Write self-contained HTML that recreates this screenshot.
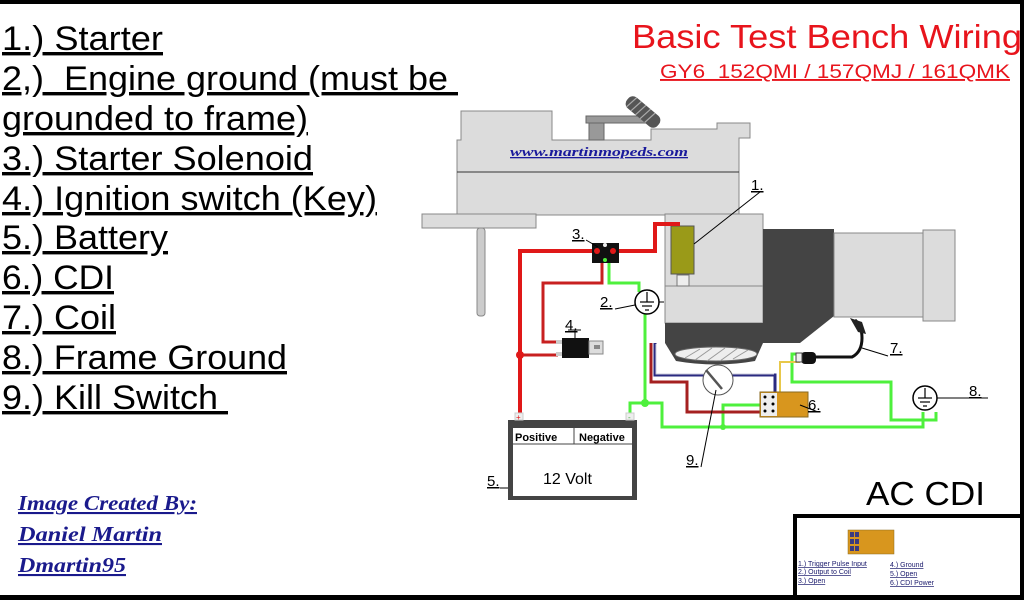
<!DOCTYPE html>
<html><head><meta charset="utf-8"><style>
html,body{margin:0;padding:0;background:#fff;}
svg{display:block;}
</style></head><body>
<svg width="1024" height="600" viewBox="0 0 1024 600" xmlns="http://www.w3.org/2000/svg" font-family="Liberation Sans, sans-serif">
<rect width="1024" height="600" fill="#fff"/>
<rect x="0" y="0" width="1024" height="4" fill="#000"/>
<rect x="0" y="595" width="1024" height="5" fill="#000"/>
<rect x="1020" y="0" width="4" height="600" fill="#000"/>

<g font-size="34" fill="#000" text-decoration="underline">
<text x="2" y="50" textLength="161" lengthAdjust="spacingAndGlyphs">1.) Starter</text>
<text x="2" y="90" textLength="456" lengthAdjust="spacingAndGlyphs" xml:space="preserve">2,)  Engine ground (must be </text>
<text x="2" y="130" textLength="306" lengthAdjust="spacingAndGlyphs">grounded to frame)</text>
<text x="2" y="170" textLength="311" lengthAdjust="spacingAndGlyphs">3.) Starter Solenoid</text>
<text x="2" y="210" textLength="375" lengthAdjust="spacingAndGlyphs">4.) Ignition switch (Key)</text>
<text x="2" y="249" textLength="166" lengthAdjust="spacingAndGlyphs">5.) Battery</text>
<text x="2" y="289" textLength="112" lengthAdjust="spacingAndGlyphs">6.) CDI</text>
<text x="2" y="329" textLength="114" lengthAdjust="spacingAndGlyphs">7.) Coil</text>
<text x="2" y="369" textLength="285" lengthAdjust="spacingAndGlyphs">8.) Frame Ground</text>
<text x="2" y="409" textLength="226" lengthAdjust="spacingAndGlyphs" xml:space="preserve">9.) Kill Switch </text>
</g>

<text x="632" y="48" font-size="33" fill="#e8141c" textLength="390" lengthAdjust="spacingAndGlyphs">Basic Test Bench Wiring</text>
<text x="660" y="78" font-size="19" fill="#e8141c" text-decoration="underline" textLength="350" lengthAdjust="spacingAndGlyphs" xml:space="preserve">GY6  152QMI / 157QMJ / 161QMK</text>

<g font-family="Liberation Serif, serif" font-style="italic" font-weight="bold" font-size="21" fill="#1a1a8c" text-decoration="underline">
<text x="18" y="510" textLength="179" lengthAdjust="spacingAndGlyphs">Image Created By:</text>
<text x="18" y="541" textLength="144" lengthAdjust="spacingAndGlyphs">Daniel Martin</text>
<text x="18" y="572" textLength="108" lengthAdjust="spacingAndGlyphs">Dmartin95</text>
</g>

<text x="866" y="505" font-size="33" fill="#000" textLength="119" lengthAdjust="spacingAndGlyphs">AC CDI</text>

<path d="M795 597 V516 H1024" fill="none" stroke="#000" stroke-width="4"/>
<rect x="848" y="530" width="46" height="24" fill="#d8961e" stroke="#8a6a20" stroke-width="0.5"/>
<g>
<rect x="850" y="532" width="4" height="5" fill="#3a3a80"/><rect x="855" y="532" width="4" height="5" fill="#3a3a80"/>
<rect x="850" y="539" width="4" height="5" fill="#3a3a80"/><rect x="855" y="539" width="4" height="5" fill="#3a3a80"/>
<rect x="850" y="546" width="4" height="5" fill="#3a3a80"/><rect x="855" y="546" width="4" height="5" fill="#3a3a80"/>
</g>
<g font-size="7" fill="#1a1a6c" text-decoration="underline">
<text x="798" y="566">1.) Trigger Pulse Input</text>
<text x="798" y="574">2.) Output to Coil</text>
<text x="798" y="583">3.) Open</text>
<text x="890" y="567">4.) Ground</text>
<text x="890" y="576">5.) Open</text>
<text x="890" y="585">6.) CDI Power</text>
</g>

<path d="M461 111 H552 V140 H651 V129 H717 V123 H750 V138 H739 V215 H457 V140 H461 Z" fill="#dcdcdc" stroke="#888" stroke-width="1"/>
<line x1="457" y1="172" x2="739" y2="172" stroke="#333" stroke-width="1"/>
<rect x="422" y="214" width="114" height="14" fill="#dcdcdc" stroke="#888"/>
<rect x="477" y="228" width="8" height="88" rx="3" fill="#ccc" stroke="#888"/>
<rect x="586" y="116" width="65" height="7" fill="#999" stroke="#666"/>
<rect x="589" y="123" width="15" height="17" fill="#999" stroke="#666"/>
<g transform="translate(643,112) rotate(40)">
<rect x="-20" y="-7" width="40" height="14" rx="6" fill="#555"/>
<g stroke="#aaa" stroke-width="1.2"><line x1="-14" y1="-7" x2="-16" y2="7"/><line x1="-8" y1="-7" x2="-10" y2="7"/><line x1="-2" y1="-7" x2="-4" y2="7"/><line x1="4" y1="-7" x2="2" y2="7"/><line x1="10" y1="-7" x2="8" y2="7"/></g>
</g>
<text x="510" y="156" font-family="Liberation Serif, serif" font-style="italic" font-weight="bold" font-size="13" fill="#1a1a9c" text-decoration="underline" textLength="178" lengthAdjust="spacingAndGlyphs">www.martinmopeds.com</text>

<rect x="665" y="214" width="98" height="109" fill="#dcdcdc" stroke="#888"/>
<line x1="665" y1="286" x2="763" y2="286" stroke="#888"/>
<rect x="665" y="323" width="98" height="20" fill="#444"/>
<path d="M763 229 H834 V316 L800 343 H763 Z" fill="#444"/>
<path d="M665 343 H763 L755 361 Q716 368 676 361 Z" fill="#444"/>
<ellipse cx="716" cy="354" rx="41" ry="7" fill="#eee" stroke="#666"/>
<g stroke="#999" stroke-width="1"><line x1="685" y1="358" x2="700" y2="349"/><line x1="695" y1="360" x2="712" y2="348"/><line x1="707" y1="361" x2="725" y2="348"/><line x1="720" y1="361" x2="738" y2="348"/><line x1="733" y1="359" x2="748" y2="350"/></g>
<rect x="834" y="233" width="90" height="84" fill="#dcdcdc" stroke="#888"/>
<rect x="923" y="230" width="32" height="91" fill="#dcdcdc" stroke="#888"/>

<rect x="671" y="226" width="23" height="48" fill="#9a9a18" stroke="#555"/>
<rect x="677" y="275" width="12" height="11" fill="#eee" stroke="#777"/>

<g fill="none" stroke-linejoin="miter">
<path d="M680 224 H655 V251 H613" stroke="#e01818" stroke-width="4"/>
<path d="M596 251 H520 V416" stroke="#e01818" stroke-width="4"/>
<path d="M520 355 H558" stroke="#c82020" stroke-width="3"/>
<path d="M602 262 V283 H543 V342 H558" stroke="#c82020" stroke-width="3"/>
<path d="M609 262 V283 H639 V292" stroke="#4ef03c" stroke-width="3"/>
<path d="M645 313 V403" stroke="#4ef03c" stroke-width="3"/>
<path d="M630 414 V403 H662 V427 H923 V412" stroke="#4ef03c" stroke-width="3"/>
<path d="M723 427 V405 H762" stroke="#4ef03c" stroke-width="3"/>
<path d="M936 412 V420 H923" stroke="#4ef03c" stroke-width="3"/>
<path d="M800 354 H792 V382 H891 V420 H923" stroke="#4ef03c" stroke-width="3"/>
<path d="M651 343 V382 H687 V412 H762" stroke="#a52020" stroke-width="3"/>
<path d="M655 343 V375 H775 V394" stroke="#2a2a80" stroke-width="3"/>
<path d="M656 344 V374 H774" stroke="#ccd" stroke-width="1"/>
<path d="M780 394 V362 H800" stroke="#e8c84a" stroke-width="2"/>
<path d="M816 357 H852 Q862 352 862 338 Q862 326 855 320" stroke="#111" stroke-width="3"/>
</g>
<path d="M850 318 L862 322 L866 334 L858 332 Z" fill="#222"/>
<rect x="801" y="352" width="15" height="12" rx="4" fill="#111"/>
<rect x="796" y="353" width="6" height="9" fill="#eee" stroke="#444"/>
<circle cx="520" cy="355" r="4" fill="#e01818"/>
<circle cx="645" cy="403" r="4" fill="#4ef03c"/>
<circle cx="723" cy="427" r="3" fill="#4ef03c"/>

<rect x="592" y="243" width="27" height="20" fill="#111"/>
<circle cx="597" cy="251" r="3" fill="#e01818"/><circle cx="613" cy="251" r="3" fill="#e01818"/>
<circle cx="605" cy="245" r="2" fill="#eee"/><circle cx="605" cy="260" r="2" fill="#4ef03c"/>

<rect x="562" y="338" width="27" height="20" fill="#111"/>
<rect x="556" y="340" width="6" height="4" fill="#ccc"/><rect x="556" y="352" width="6" height="4" fill="#ccc"/>
<rect x="589" y="341" width="14" height="13" fill="#ddd" stroke="#888"/>
<rect x="594" y="345" width="6" height="4" fill="#888"/>
<line x1="575" y1="338" x2="575" y2="330" stroke="#000"/><line x1="568" y1="330" x2="581" y2="330" stroke="#000"/>

<circle cx="647" cy="302" r="12" fill="#fff" stroke="#000" stroke-width="1.5"/>
<g stroke="#000" stroke-width="1.2"><line x1="647" y1="292" x2="647" y2="302"/><line x1="640" y1="302" x2="654" y2="302"/><line x1="642" y1="306" x2="652" y2="306"/><line x1="645" y1="310" x2="649" y2="310"/></g>
<line x1="659" y1="302" x2="664" y2="302" stroke="#000"/>
<circle cx="925" cy="398" r="12" fill="#fff" stroke="#000" stroke-width="1.5"/>
<g stroke="#000" stroke-width="1.2"><line x1="925" y1="388" x2="925" y2="398"/><line x1="918" y1="398" x2="932" y2="398"/><line x1="920" y1="402" x2="930" y2="402"/><line x1="923" y1="406" x2="927" y2="406"/></g>
<line x1="937" y1="398" x2="988" y2="398" stroke="#000"/>

<circle cx="718" cy="380" r="15" fill="#fff" stroke="#555"/>
<line x1="706" y1="370" x2="722" y2="389" stroke="#555" stroke-width="2.5"/>

<rect x="760" y="392" width="48" height="25" fill="#d8961e" stroke="#8a6a20"/>
<rect x="761" y="393" width="16" height="23" fill="#eee"/>
<g fill="#000"><circle cx="765" cy="397" r="1.5"/><circle cx="773" cy="397" r="1.5"/><circle cx="765" cy="404" r="1.5"/><circle cx="773" cy="404" r="1.5"/><circle cx="765" cy="411" r="1.5"/><circle cx="773" cy="411" r="1.5"/></g>

<rect x="508" y="420" width="129" height="80" fill="#444"/>
<rect x="513" y="428" width="119" height="68" fill="#fff"/>
<line x1="513" y1="444" x2="632" y2="444" stroke="#444"/>
<line x1="574" y1="428" x2="574" y2="444" stroke="#444"/>
<text x="515" y="441" font-size="11" font-weight="bold">Positive</text>
<text x="579" y="441" font-size="11" font-weight="bold">Negative</text>
<text x="543" y="484" font-size="16">12 Volt</text>
<rect x="515" y="413" width="8" height="7" fill="#eee" stroke="#ccc"/><text x="516" y="420" font-size="8" fill="#e01818">+</text>
<rect x="626" y="413" width="8" height="7" fill="#eee" stroke="#ccc"/><text x="628" y="420" font-size="8" fill="#4a4">-</text>

<g font-size="15" fill="#000" text-decoration="underline">
<text x="751" y="190">1.</text>
<text x="600" y="307">2.</text>
<text x="572" y="239">3.</text>
<text x="565" y="330">4.</text>
<text x="487" y="486">5.</text>
<text x="808" y="410">6.</text>
<text x="890" y="353">7.</text>
<text x="969" y="396">8.</text>
<text x="686" y="465">9.</text>
</g>
<g stroke="#000" stroke-width="1" fill="none">
<line x1="694" y1="244" x2="760" y2="192"/>
<line x1="615" y1="309" x2="635" y2="305"/>
<line x1="586" y1="240" x2="598" y2="247"/>
<line x1="500" y1="488" x2="508" y2="488"/>
<line x1="818" y1="412" x2="800" y2="405"/>
<line x1="888" y1="356" x2="862" y2="348"/>
<line x1="701" y1="467" x2="716" y2="390"/>
</g>
</svg>
</body></html>
